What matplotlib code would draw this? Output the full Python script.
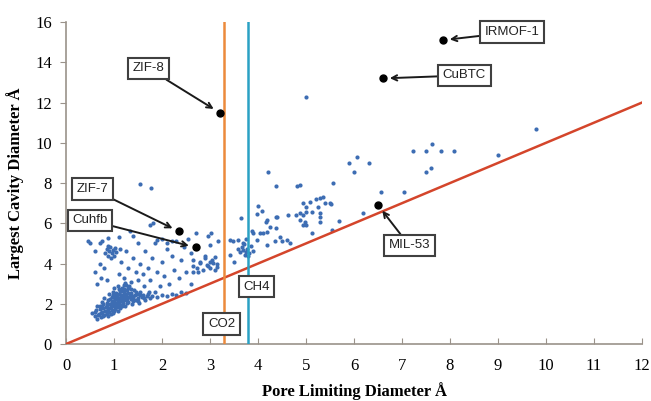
import matplotlib.pyplot as plt

# pore limiting diameter / largest cavity diameter of screened structures
points = [
    # dense cluster near 1 A
    (0.55, 1.55), (0.6, 1.4), (0.62, 1.7), (0.65, 1.25), (0.68, 1.5), (0.7, 1.9), (0.72, 1.35), (0.75, 1.6),
    (0.75, 2.1), (0.78, 1.8), (0.8, 1.45), (0.8, 2.3), (0.82, 1.65), (0.85, 1.95), (0.85, 1.5), (0.88, 2.2),
    (0.88, 1.75), (0.9, 2.5), (0.9, 1.6), (0.92, 2.0), (0.93, 1.85), (0.95, 2.35), (0.95, 1.7), (0.97, 2.6),
    (0.98, 2.15), (1.0, 1.9), (1.0, 2.4), (1.0, 2.8), (1.02, 1.75), (1.03, 2.25), (1.05, 2.05), (1.05, 2.55),
    (1.07, 1.85), (1.08, 2.9), (1.1, 2.3), (1.1, 2.0), (1.12, 2.65), (1.13, 1.95), (1.15, 2.45), (1.15, 2.15),
    (1.17, 2.8), (1.18, 2.05), (1.2, 2.35), (1.2, 2.6), (1.22, 1.9), (1.23, 3.05), (1.25, 2.2), (1.25, 2.5),
    (1.28, 2.7), (1.3, 2.1), (1.3, 2.35), (1.32, 2.9), (1.35, 2.25), (1.35, 2.55), (1.38, 2.0), (1.4, 2.4),
    (1.42, 2.7), (1.45, 2.2), (1.48, 2.5), (1.5, 2.3), (1.52, 2.05), (1.55, 2.6), (1.58, 2.35), (1.6, 2.45),
    (1.65, 2.2), (1.7, 2.5), (1.75, 2.3), (1.8, 2.4), (1.85, 2.6), (1.9, 2.35), (2.0, 2.45), (2.1, 2.4),
    (2.2, 2.5), (2.3, 2.45), (2.4, 2.6), (2.5, 2.55), (0.98, 1.55), (1.08, 1.65), (1.12, 1.8), (0.7, 1.75),
    (0.78, 2.0), (0.88, 1.4), (1.18, 2.45), (1.28, 2.25), (0.95, 2.1), (1.05, 2.3), (1.15, 2.65), (1.25, 2.95),
    (0.6, 1.6), (0.65, 1.9),
    (0.72, 1.55), (0.77, 1.4), (0.83, 1.85), (0.86, 2.05), (0.9, 1.8), (0.92, 2.25), (0.96, 1.95),
    (0.99, 2.05), (1.01, 2.15), (1.04, 1.95), (1.06, 2.4), (1.09, 2.15), (1.11, 2.5), (1.14, 2.3),
    (1.16, 1.9), (1.19, 2.2), (1.21, 2.75), (1.24, 2.35), (1.27, 2.05), (1.29, 2.55), (1.33, 2.4),
    (1.36, 2.75), (1.39, 2.3), (1.43, 2.45), (1.46, 2.6), (1.5, 2.15), (1.54, 2.45), (1.62, 2.3),
    (1.68, 2.4), (1.72, 2.6), (0.94, 1.5), (1.0, 1.65), (0.86, 1.6), (0.74, 1.85), (0.66, 1.45),
    (1.1, 2.75), (1.2, 2.95), (1.3, 2.8), (1.4, 2.15), (0.97, 2.45),
    # small group near 0.9 / 4.6
    (0.82, 4.5), (0.85, 4.7), (0.88, 4.4), (0.9, 4.6), (0.92, 4.8), (0.95, 4.5), (0.97, 4.65), (1.0, 4.4),
    (1.02, 4.75), (0.87, 4.85), (0.93, 4.3), (1.05, 4.55),
    # scattered below 3.2 A
    (0.5, 5.0), (0.6, 4.6), (0.6, 3.6), (0.65, 3.0), (0.7, 4.0), (0.72, 3.3), (0.75, 5.1), (0.8, 3.8),
    (0.85, 3.2), (1.1, 5.3), (1.1, 3.5), (1.15, 4.1), (1.2, 3.3), (1.25, 4.6), (1.3, 3.8), (1.35, 3.1),
    (1.4, 4.3), (1.45, 3.6), (1.5, 5.0), (1.5, 3.2), (1.55, 4.0), (1.6, 3.5), (1.62, 2.9), (1.65, 4.6),
    (1.7, 3.8), (1.75, 3.2), (1.8, 4.3), (1.85, 5.0), (1.9, 3.6), (1.95, 2.9), (2.0, 4.1), (2.0, 5.2),
    (2.05, 3.4), (2.1, 4.7), (2.15, 3.0), (2.2, 4.4), (2.25, 3.7), (2.3, 5.1), (2.35, 3.3), (2.4, 4.2),
    (2.45, 4.8), (2.5, 3.6), (2.55, 5.2), (2.6, 3.0), (2.6, 4.5), (2.65, 3.9), (2.7, 5.5), (2.8, 4.1),
    (2.85, 3.7), (2.9, 4.4), (2.95, 3.9), (3.0, 3.8), (3.05, 4.2), (3.1, 3.7), (3.15, 4.0), (3.0, 4.9),
    (2.75, 3.6), (1.82, 6.0), (1.75, 5.92), (1.33, 5.62), (1.4, 5.37), (0.46, 5.12), (0.71, 5.04),
    (0.88, 5.26), (1.89, 5.17), (2.1, 5.04), (2.2, 5.14), (1.13, 4.73), (1.54, 7.96), (1.77, 7.74),
    (2.65, 4.18), (2.79, 4.01), (2.72, 3.77), (2.9, 4.26), (2.93, 3.93), (3.0, 4.09), (3.07, 4.01),
    (3.14, 3.85), (3.1, 4.34), (2.65, 3.6),
    # around the CO2 / CH4 lines
    (3.42, 4.43), (3.49, 4.09), (3.69, 4.68), (3.76, 4.59), (3.62, 4.55), (3.66, 4.8), (3.72, 4.45),
    (3.78, 4.7), (3.82, 4.52), (3.85, 4.85), (3.9, 4.6), (3.7, 4.95), (3.58, 4.72), (3.8, 4.4),
    (3.02, 5.54), (2.96, 5.37), (3.17, 5.14), (3.42, 5.17), (3.48, 5.14), (3.59, 5.17), (3.68, 5.04),
    (3.76, 5.21), (3.64, 6.28),
    # 4 - 5.5 A
    (4.2, 8.57), (4.375, 7.86), (4.82, 7.83), (4.0, 6.88), (4.08, 6.63), (3.97, 6.45), (4.62, 6.42),
    (4.8, 6.42), (4.375, 6.33), (4.17, 6.05), (4.25, 5.84), (4.375, 5.76), (4.19, 5.59), (4.04, 5.51),
    (3.9, 5.51), (3.87, 5.62), (4.18, 4.93), (4.35, 5.14), (4.49, 5.12), (4.67, 5.0), (4.18, 6.17),
    (4.39, 6.33), (4.875, 6.5), (5.01, 6.83), (5.26, 6.83), (5.29, 6.33), (5.12, 5.51), (4.94, 5.92),
    (4.46, 5.34), (4.6, 5.17), (4.11, 5.51), (3.97, 5.17), (4.875, 7.91), (4.94, 7.03), (5.08, 7.08),
    (5.21, 7.2), (5.29, 7.25), (5.4, 7.0), (5.5, 7.03), (5.53, 6.97), (5.01, 6.58), (5.12, 6.58),
    (4.94, 6.42), (4.98, 6.08), (5.01, 5.92), (5.29, 6.5), (5.29, 6.08), (4.875, 6.17), (5.35, 7.33),
    (5.01, 12.27),
    # larger pores
    (6.06, 9.29), (5.9, 8.99), (6.31, 9.02), (6.0, 8.57), (5.56, 8.0), (6.56, 7.58), (7.04, 7.58),
    (6.19, 6.53), (5.69, 6.12), (5.54, 5.67), (7.22, 9.6), (7.5, 9.57), (7.63, 9.95), (7.81, 9.57),
    (8.09, 9.57), (7.49, 8.57), (7.6, 8.74), (8.99, 9.37), (9.8, 10.7),
]
pld = [p[0] for p in points]
lcd = [p[1] for p in points]

# highlighted frameworks
names = ["ZIF-8", "IRMOF-1", "CuBTC", "ZIF-7", "Cuhfb", "MIL-53"]
named_pld = [3.2, 7.85, 6.6, 2.35, 2.7, 6.5]
named_lcd = [11.5, 15.1, 13.2, 5.6, 4.8, 6.9]
label_pos = [(1.71, 13.7), (9.3, 15.5), (8.3, 13.35), (0.55, 7.7), (0.5, 6.15), (7.15, 4.9)]

# kinetic diameters of the gases
gas_names = ["CO2", "CH4"]
gas_diam = [3.3, 3.8]
gas_colors = ["#ec8a3c", "#2aa1c4"]
gas_label_y = [1.0, 2.85]

fig = plt.figure(figsize=(6.51, 4.01), dpi=100)
ax = fig.add_axes([0.1014, 0.142, 0.8848, 0.803])

ax.scatter(pld, lcd, s=9, color="#3d6db3", linewidths=0, zorder=2)

# PLD = LCD line
ax.plot([0, 12], [0, 12], color="#d4452b", lw=1.8, zorder=3)

for d, c in zip(gas_diam, gas_colors):
    ax.plot([d, d], [0, 16], color=c, lw=1.8, zorder=3)

box = dict(boxstyle="square,pad=0.35", fc="white", ec="#404040", lw=1.5)
for d, n, y in zip(gas_diam, gas_names, gas_label_y):
    ax.text(d - 0.06 if n == "CO2" else d + 0.17, y, n, ha="center", va="center",
            fontsize=9.5, family="Liberation Sans", color="#222222", bbox=box, zorder=5)

ax.plot(named_pld, named_lcd, "o", color="black", ms=5, zorder=4)
for n, x, y, (tx, ty) in zip(names, named_pld, named_lcd, label_pos):
    ax.annotate(n, xy=(x, y), xytext=(tx, ty), ha="center", va="center",
                fontsize=9.5, family="Liberation Sans", color="#222222", bbox=box, zorder=5,
                arrowprops=dict(arrowstyle="->", color="#1a1a1a", lw=1.4,
                                shrinkA=0, shrinkB=5))

ax.set_xlim(0, 12)
ax.set_ylim(0, 16)
ax.set_xticks(range(0, 13))
ax.set_yticks(range(0, 17, 2))
for s in ["top", "right"]:
    ax.spines[s].set_visible(False)
for s in ["left", "bottom"]:
    ax.spines[s].set_color("#9a928a")
    ax.spines[s].set_linewidth(1.2)
ax.tick_params(axis="x", direction="in", length=4, color="#9a928a", pad=10)
ax.tick_params(axis="y", direction="out", length=4, color="#9a928a", pad=6)
for lab in ax.get_xticklabels() + ax.get_yticklabels():
    lab.set_family("Liberation Serif")
    lab.set_fontsize(12)

ax.set_xlabel("Pore Limiting Diameter Å", family="Liberation Serif", fontsize=12,
              fontweight="bold", labelpad=6)
ax.set_ylabel("Largest Cavity Diameter Å", family="Liberation Serif", fontsize=12,
              fontweight="bold", labelpad=8)

fig.savefig("out.png", dpi=100)
